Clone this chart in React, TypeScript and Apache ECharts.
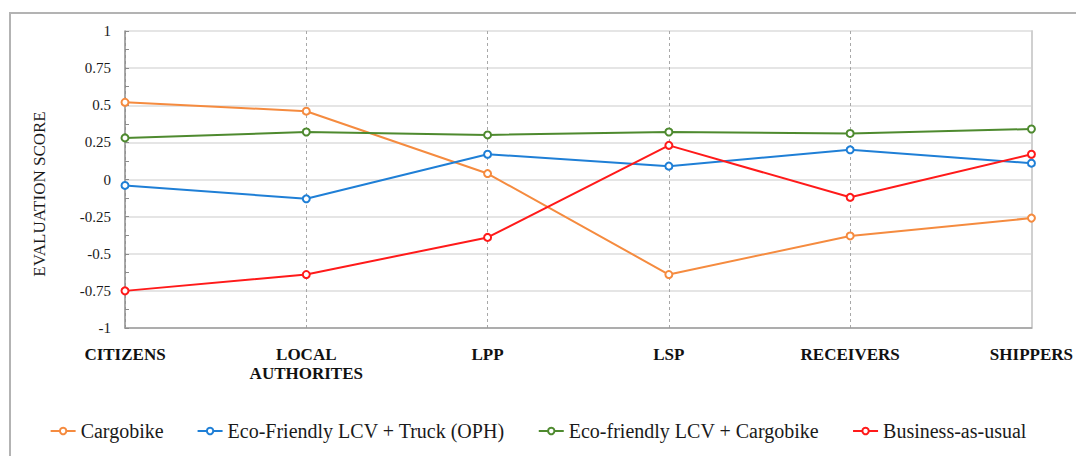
import React, { useEffect, useRef } from "react";
import * as echarts from "echarts";

const categories = ["CITIZENS", "LOCAL\nAUTHORITES", "LPP", "LSP", "RECEIVERS", "SHIPPERS"];
const seriesNames = [
  "Cargobike",
  "Eco-Friendly LCV + Truck (OPH)",
  "Eco-friendly LCV + Cargobike",
  "Business-as-usual",
];
const cargobike = [0.52, 0.46, 0.04, -0.64, -0.38, -0.26];
const ecoTruck = [-0.04, -0.13, 0.17, 0.09, 0.2, 0.11];
const ecoCargobike = [0.28, 0.32, 0.3, 0.32, 0.31, 0.34];
const businessAsUsual = [-0.75, -0.64, -0.39, 0.23, -0.12, 0.17];
const yAxisTitle = "EVALUATION SCORE";

const colors = ["#F58B3F", "#1F7FD6", "#4E8A2F", "#FF1A1A"];
const markerBorders = ["#F58B3F", "#44546A", "#4E8A2F", "#FF1A1A"];
const FONT = "Liberation Serif";

export default function App() {
  const ref = useRef<HTMLDivElement>(null);
  useEffect(() => {
    document.body.style.margin = "0";
    if (!ref.current) return;
    const chart = echarts.init(ref.current, undefined, { renderer: "svg" });
    const data = [cargobike, ecoTruck, ecoCargobike, businessAsUsual];
    chart.setOption({
      animation: false,
      backgroundColor: "#ffffff",
      textStyle: { fontFamily: FONT },
      grid: { left: 125, right: 43, top: 31, bottom: 128 },
      legend: {
        bottom: 10,
        left: "center",
        itemWidth: 25,
        itemHeight: 8,
        itemGap: 33,
        data: seriesNames,
        textStyle: { fontFamily: FONT, fontSize: 20, color: "#1a1a1a" },
      },
      graphic: [
        {
          type: "rect",
          shape: { x: 10, y: 13, width: 1100, height: 500 },
          style: { fill: "none", stroke: "#b3b3b3", lineWidth: 2 },
          silent: true,
        },
        {
          type: "text",
          x: 39,
          y: 194,
          rotation: Math.PI / 2,
          style: {
            text: yAxisTitle,
            fontFamily: FONT,
            fontSize: 17,
            fill: "#1a1a1a",
            align: "center",
            verticalAlign: "middle",
          },
        },
      ],
      xAxis: {
        type: "category",
        boundaryGap: false,
        data: categories,
        axisLine: { show: true, onZero: false, lineStyle: { color: "#9a9a9a", width: 1.5 } },
        axisTick: { show: false },
        splitLine: { show: true, lineStyle: { color: "#a8a8a8", type: [3, 3], width: 1 } },
        axisLabel: {
          interval: 0,
          fontFamily: FONT,
          fontWeight: "bold",
          fontSize: 17,
          lineHeight: 19,
          color: "#111",
          margin: 17,
        },
      },
      yAxis: [
        {
          type: "value",
          min: -1,
          max: 1,
          interval: 0.25,
          axisLine: { show: true, lineStyle: { color: "#8c8c8c", width: 1.5 } },
          axisTick: { show: false },
          splitLine: { show: true, lineStyle: { color: "#dcdcdc", width: 1.5 } },
          axisLabel: { fontFamily: FONT, fontSize: 15, color: "#1a1a1a", margin: 14 },
        },
        {
          type: "value",
          min: -1,
          max: 1,
          interval: 0.25,
          position: "right",
          axisLine: { show: true, lineStyle: { color: "#d0d0d0", width: 2 } },
          axisTick: { show: false },
          axisLabel: { show: false },
          splitLine: { show: false },
        },
        {
          type: "value",
          min: -1,
          max: 1,
          interval: 0.125,
          position: "left",
          offset: -4,
          axisLine: { show: false },
          axisTick: { show: true, inside: false, length: 4, lineStyle: { color: "#8c8c8c" } },
          axisLabel: { show: false },
          splitLine: { show: false },
        },
      ],
      series: seriesNames.map((name, i) => ({
        name,
        type: "line",
        data: data[i],
        symbol: "emptyCircle",
        symbolSize: 7,
        lineStyle: { color: colors[i], width: 2 },
        itemStyle: { color: colors[i], borderColor: markerBorders[i], borderWidth: 1.5 },
        z: i === 3 ? 5 : 3,
      })),
    });
    return () => chart.dispose();
  }, []);
  return <div ref={ref} style={{ width: 1076, height: 456 }} />;
}
